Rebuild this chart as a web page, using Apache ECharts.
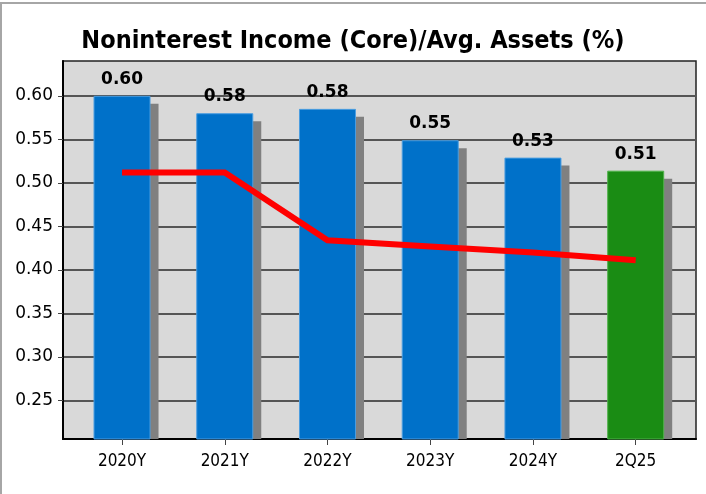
<!DOCTYPE html>
<html>
<head>
<meta charset="utf-8">
<script src="https://cdn.jsdelivr.net/npm/echarts@6/dist/echarts.min.js"></script>
<style>
  html, body { margin: 0; padding: 0; background: #fff; }
  #wrap { position: relative; width: 706px; height: 494px; }
  #chart { width: 706px; height: 494px; }
  #frame { position: absolute; left: 0; top: 2px; width: 706px; height: 492px;
           border-left: 2px solid #a6a6a6; border-top: 2px solid #a6a6a6;
           box-sizing: border-box; pointer-events: none; }
</style>
</head>
<body>
<div id="wrap">
  <div id="chart"></div>
  <div id="frame"></div>
</div>
<script>
// 数据
var categories = ['2020Y', '2021Y', '2022Y', '2023Y', '2024Y', '2Q25'];
var ratioValues = [0.600, 0.580, 0.585, 0.549, 0.529, 0.514];
var ratioLabels = ['0.60', '0.58', '0.58', '0.55', '0.53', '0.51'];
var peerValues = [0.512, 0.512, 0.434, 0.427, 0.420, 0.411];
var yTicks = [0.25, 0.30, 0.35, 0.40, 0.45, 0.50, 0.55, 0.60];

var yMin = 0.2057, yMax = 0.64;
var barW = 57;

var barData = [];
var lineData = [];
var tickIdx = [];
for (var i = 0; i < categories.length; i++) {
  barData.push({
    value: [i, ratioValues[i]],
    label: ratioLabels[i],
    itemStyle: { color: i === categories.length - 1 ? '#1a8c14' : '#0071c9',
                 borderColor: i === categories.length - 1 ? '#4fb24a' : '#4a9de0' }
  });
  lineData.push([i, peerValues[i]]);
  tickIdx.push(i);
}

var option = {
  animation: false,
  title: {
    text: 'Noninterest Income (Core)/Avg. Assets (%)',
    left: 'center',
    top: 24,
    textStyle: {
      fontFamily: 'DejaVu Sans Condensed',
      fontWeight: 'bold',
      fontSize: 25,
      color: '#000'
    }
  },
  grid: {
    left: 63,
    right: 10,
    top: 61,
    bottom: 55,
    show: true,
    backgroundColor: '#d9d9d9',
    borderColor: '#222',
    borderWidth: 1.5
  },
  xAxis: {
    type: 'value',
    min: -0.5746,
    max: 5.587,
    axisLine: { show: true, onZero: false, lineStyle: { color: '#000', width: 2 } },
    axisTick: { show: true, customValues: tickIdx, length: 6, lineStyle: { color: '#444' } },
    splitLine: { show: false },
    axisLabel: {
      customValues: tickIdx,
      margin: 14,
      fontFamily: 'DejaVu Sans Condensed',
      fontSize: 17,
      color: '#000',
      formatter: function (v) { return categories[Math.round(v)]; }
    }
  },
  yAxis: {
    type: 'value',
    min: yMin,
    max: yMax,
    axisLine: { show: true, onZero: false, lineStyle: { color: '#000', width: 2 } },
    axisTick: { show: true, customValues: yTicks, length: 5, lineStyle: { color: '#444' } },
    splitLine: { show: true, lineStyle: { color: '#555', width: 2 } },
    axisLabel: {
      customValues: yTicks,
      margin: 10,
      fontFamily: 'DejaVu Sans',
      fontSize: 17,
      color: '#000',
      formatter: function (v) { return v.toFixed(2); }
    }
  },
  series: [
    {
      // 阴影
      type: 'custom',
      z: 1,
      data: barData.map(function (d) { return d.value; }),
      renderItem: function (params, api) {
        var top = api.coord([api.value(0), api.value(1)]);
        var base = api.coord([api.value(0), yMin]);
        return {
          type: 'rect',
          shape: { x: top[0] - barW / 2 + 8, y: top[1] + 8, width: barW, height: base[1] - top[1] - 8 },
          style: { fill: '#808080' }
        };
      }
    },
    {
      type: 'bar',
      z: 2,
      barWidth: barW,
      data: barData,
      itemStyle: { borderWidth: 1 },
      label: {
        show: true,
        position: 'top',
        distance: 8,
        fontFamily: 'DejaVu Sans',
        fontWeight: 'bold',
        fontSize: 17,
        color: '#000',
        formatter: function (p) { return p.data.label; }
      }
    },
    {
      type: 'line',
      z: 3,
      data: lineData,
      symbol: 'none',
      lineStyle: { color: '#ff0000', width: 6, cap: 'butt', join: 'miter' }
    }
  ]
};

var myChart = echarts.init(document.getElementById('chart'));
option && myChart.setOption(option);
</script>
</body>
</html>
